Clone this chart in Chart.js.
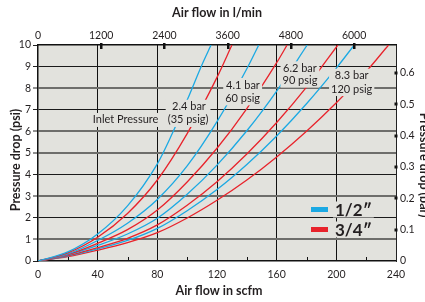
<!DOCTYPE html>
<html><head><meta charset="utf-8">
<script src="https://cdn.jsdelivr.net/npm/chart.js@4"></script>
<style>html,body{margin:0;padding:0;background:#fff;}#wrap{width:425px;height:302px;}</style>
</head><body><div id="wrap"><canvas id="c" width="425" height="302"></canvas></div>
<script>
// ---- data ----
const scfmTicks = [0, 40, 80, 120, 160, 200, 240];
const scfmMinorTicks = [20, 60, 100, 140, 180, 220];
const lminTicks = [0, 1200, 2400, 3600, 4800, 6000];
const psiTicks = [0, 1, 2, 3, 4, 5, 6, 7, 8, 9, 10];
const barTicks = [0, 0.1, 0.2, 0.3, 0.4, 0.5, 0.6];
const portSizes = ['1/2\u2033', '3/4\u2033'];

// 1/2" port, flow (scfm) and pressure drop (psi)
const half35Flow  = [0, 20, 40, 60, 80, 90, 100, 110, 116];
const half35Drop  = [0, 0.42, 1.25, 2.55, 4.5, 5.9, 7.45, 9.1, 10];
const half60Flow  = [0, 20, 40, 60, 80, 100, 120, 140, 148];
const half60Drop  = [0, 0.33, 0.95, 1.75, 2.85, 4.4, 6.45, 8.9, 10];
const half90Flow  = [0, 20, 40, 60, 80, 100, 120, 140, 160, 180.5];
const half90Drop  = [0, 0.28, 0.72, 1.25, 1.98, 3.09, 4.44, 6.03, 7.87, 10];
const half120Flow = [0, 20, 40, 60, 80, 100, 120, 140, 160, 180, 200, 212];
const half120Drop = [0, 0.23, 0.56, 0.95, 1.51, 2.33, 3.31, 4.47, 5.79, 7.28, 8.93, 10];
// 3/4" port
const q35Flow  = [0, 20, 40, 60, 80, 100, 120, 130];
const q35Drop  = [0, 0.38, 1.1, 2.2, 3.75, 5.9, 8.5, 10];
const q60Flow  = [0, 20, 40, 60, 80, 100, 120, 140, 160, 167];
const q60Drop  = [0, 0.3, 0.82, 1.45, 2.36, 3.66, 5.22, 7.06, 9.18, 10];
const q90Flow  = [0, 20, 40, 60, 80, 100, 120, 140, 160, 180, 201];
const q90Drop  = [0, 0.25, 0.62, 1.05, 1.67, 2.58, 3.67, 4.95, 6.41, 8.05, 10];
const q120Flow = [0, 20, 40, 60, 80, 100, 120, 140, 160, 180, 200, 220, 235];
const q120Drop = [0, 0.2, 0.5, 0.85, 1.31, 1.99, 2.81, 3.75, 4.82, 6.01, 7.33, 8.77, 10];

const LMIN_PER_SCFM = 28.3168;
const PSI_PER_BAR = 14.5038;

// ---- styles ----
const BLUE = '#1ba9e3', RED = '#e8232b', PLOT_BG = '#e2e2dd', INK = '#231f20';
const FONT = 'Lato, "Open Sans", sans-serif';

const pts = (xs, ys) => xs.map((x, i) => ({x, y: ys[i]}));
const ds = (xs, ys, color) => ({data: pts(xs, ys), borderColor: color, borderWidth: 1.3,
  pointRadius: 0, showLine: true, fill: false, cubicInterpolationMode: 'monotone'});

// annotation placements (data coords)
const notes = [
  {lines: ['Inlet Pressure'], at: [[58.7, 6.53]]},
  {lines: ['2.4 bar', '(35 psig)'], at: [[101.2, 7.14], [100.6, 6.53]]},
  {lines: ['4.1 bar', '60 psig'], at: [[137.4, 8.15], [137.2, 7.53]]},
  {lines: ['6.2 bar', '90 psig'], at: [[175.6, 8.92], [175.6, 8.35]]},
  {lines: ['8.3 bar', '120 psig'], at: [[210.3, 8.58], [210.3, 7.96]]}
];

const gray = [1, 3, 5, 6, 8];

const decor = {
  id: 'decor',
  beforeDraw(chart) {
    const {ctx, chartArea: a} = chart;
    ctx.save(); ctx.fillStyle = PLOT_BG;
    ctx.fillRect(a.left, a.top, a.right - a.left, a.bottom - a.top); ctx.restore();
  },
  afterDatasetsDraw(chart) {
    const {ctx, chartArea: a, scales} = chart;
    const sx = scales.x, sy = scales.y, sx2 = scales.x2, sy2 = scales.y2;
    ctx.save();
    ctx.strokeStyle = '#111'; ctx.lineWidth = 1;
    scfmMinorTicks.forEach(v => { const px = Math.round(sx.getPixelForValue(v)) + 0.5;
      ctx.beginPath(); ctx.moveTo(px, a.bottom); ctx.lineTo(px, a.bottom - 4); ctx.stroke(); });
    ctx.fillStyle = '#111';
    lminTicks.forEach(v => { if (v === 0) return; const px = sx2.getPixelForValue(v);
      ctx.fillRect(Math.round(px) - 1, a.top - 2, 2.5, 6); });
    barTicks.forEach(v => { if (v === 0) return; const py = sy2.getPixelForValue(v);
      ctx.fillRect(a.right - 1.5, Math.round(py) - 1.5, 3, 3); });
    ctx.font = '11px ' + FONT; ctx.textAlign = 'center'; ctx.textBaseline = 'middle';
    notes.forEach(n => {
      let l = Infinity, r = -Infinity, t = Infinity, b = -Infinity;
      const pos = n.at.map(p => [sx.getPixelForValue(p[0]), sy.getPixelForValue(p[1])]);
      n.lines.forEach((s, i) => { const w = ctx.measureText(s).width;
        l = Math.min(l, pos[i][0] - w / 2 - 2); r = Math.max(r, pos[i][0] + w / 2 + 2);
        t = Math.min(t, pos[i][1] - 7); b = Math.max(b, pos[i][1] + 7); });
      ctx.fillStyle = PLOT_BG; ctx.fillRect(l, t, r - l, b - t);
      ctx.fillStyle = INK; n.lines.forEach((s, i) => ctx.fillText(s, pos[i][0], pos[i][1]));
    });
    const colors = [BLUE, RED];
    ctx.font = 'bold 17px ' + FONT; ctx.textAlign = 'left';
    portSizes.forEach((s, i) => {
      const y = 209.5 + i * 20; const w = ctx.measureText(s).width;
      ctx.fillStyle = PLOT_BG; ctx.fillRect(333, y - 8, w + 4, 16);
      ctx.fillStyle = colors[i]; ctx.fillRect(311, y - 2.5, 17, 5);
      ctx.fillStyle = INK; ctx.fillText(s, 335, y + 1);
    });
    ctx.restore();
  },
  afterDraw(chart) {
    const {ctx} = chart;
    ctx.save(); ctx.fillStyle = INK; ctx.font = 'bold 12.5px ' + FONT;
    ctx.textAlign = 'center'; ctx.textBaseline = 'middle';
    ctx.fillText('Air flow in l/min', 217, 13);
    ctx.fillText('Air flow in scfm', 219, 291);
    ctx.save(); ctx.translate(16, 160); ctx.rotate(-Math.PI / 2);
    ctx.fillText('Pressure drop (psi)', 0, 0); ctx.restore();
    ctx.save(); ctx.translate(424, 165); ctx.rotate(Math.PI / 2);
    ctx.fillText('Pressure drop (bar)', 0, 0); ctx.restore();
    ctx.restore();
  }
};

const tickFont = {family: FONT, size: 10.5};

new Chart(document.getElementById('c'), {
  type: 'scatter',
  data: {datasets: [
    ds(half35Flow, half35Drop, BLUE), ds(q35Flow, q35Drop, RED),
    ds(half60Flow, half60Drop, BLUE), ds(q60Flow, q60Drop, RED),
    ds(half90Flow, half90Drop, BLUE), ds(q90Flow, q90Drop, RED),
    ds(half120Flow, half120Drop, BLUE), ds(q120Flow, q120Drop, RED)
  ]},
  options: {
    responsive: false, animation: false, events: [],
    layout: {padding: 0},
    plugins: {legend: {display: false}, tooltip: {enabled: false}},
    scales: {
      x: {type: 'linear', position: 'bottom', min: 0, max: 240,
        afterFit(s) { s.height = 41; },
        afterBuildTicks(s) { s.ticks = scfmTicks.map(v => ({value: v})); },
        ticks: {font: tickFont, color: INK, padding: 7, maxRotation: 0, autoSkip: false,
          callback: v => String(v)},
        grid: {drawTicks: false, lineWidth: 1,
          color: c => (c.tick && c.tick.value > 0 && c.tick.value < 240) ? '#111' : 'rgba(0,0,0,0)'},
        border: {color: '#111', width: 1.5}},
      x2: {type: 'linear', position: 'top', min: 0, max: 240 * LMIN_PER_SCFM,
        afterFit(s) { s.height = 45; },
        afterBuildTicks(s) { s.ticks = lminTicks.map(v => ({value: v})); },
        ticks: {font: tickFont, color: INK, padding: 3, maxRotation: 0, autoSkip: false,
          callback: v => String(v)},
        grid: {display: false, drawTicks: false},
        border: {color: '#111', width: 1.5}},
      y: {type: 'linear', position: 'left', min: 0, max: 10,
        afterFit(s) { s.width = 38; },
        afterBuildTicks(s) { s.ticks = psiTicks.map(v => ({value: v})); },
        ticks: {font: tickFont, color: INK, padding: 2, autoSkip: false, callback: v => String(v)},
        grid: {tickLength: 5, tickColor: '#222', tickWidth: 1,
          color: c => { const v = c.tick && c.tick.value; if (v === 0 || v === 10) return 'rgba(0,0,0,0)';
            return gray.includes(v) ? '#6e6e6b' : '#1a1a1a'; },
          lineWidth: c => gray.includes(c.tick && c.tick.value) ? 2 : 1},
        border: {color: '#111', width: 1.5}},
      y2: {type: 'linear', position: 'right', min: 0, max: 10 / PSI_PER_BAR,
        afterFit(s) { s.width = 29; },
        afterBuildTicks(s) { s.ticks = barTicks.map(v => ({value: v})); },
        ticks: {font: tickFont, color: INK, padding: 4, autoSkip: false,
          callback: v => v === 0 ? '0' : v.toFixed(1)},
        grid: {display: false, drawTicks: false},
        border: {color: '#222', width: 1}}
    }
  },
  plugins: [decor]
});
</script></body></html>
